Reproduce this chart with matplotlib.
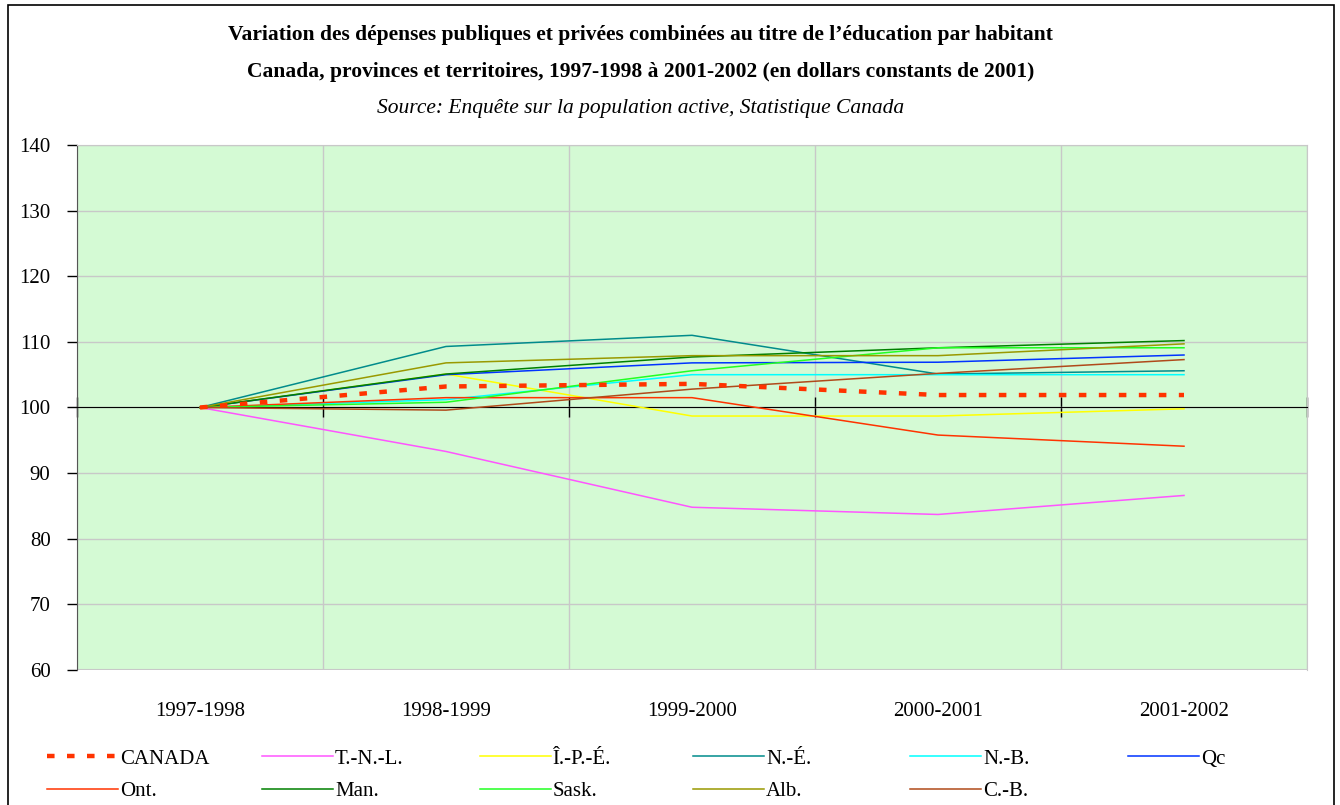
import matplotlib.pyplot as plt
from matplotlib.patches import Rectangle

# catégories et valeurs (indice 1997-1998 = 100)
annees = ['1997-1998', '1998-1999', '1999-2000', '2000-2001', '2001-2002']

canada = [100, 103.2, 103.6, 101.9, 101.9]
tnl = [100, 93.3, 84.8, 83.7, 86.6]
ipe = [100, 105.1, 98.7, 98.7, 99.8]
ne = [100, 109.3, 111.0, 105.1, 105.6]
nb = [100, 101.2, 105.0, 105.0, 105.0]
qc = [100, 105.0, 106.8, 106.9, 108.0]
ont = [100, 101.5, 101.5, 95.8, 94.1]
man = [100, 105.1, 107.7, 109.1, 110.2]
sask = [100, 100.8, 105.6, 109.1, 109.1]
alb = [100, 106.8, 107.9, 107.9, 109.7]
cb = [100, 99.6, 102.8, 105.2, 107.3]

series = [
    ('T.-N.-L.', tnl, '#FF55FF'),
    ('Î.-P.-É.', ipe, '#FFFF00'),
    ('N.-É.', ne, '#008B8B'),
    ('N.-B.', nb, '#00FFFF'),
    ('Qc', qc, '#0033FF'),
    ('Ont.', ont, '#FF3300'),
    ('Man.', man, '#008000'),
    ('Sask.', sask, '#22FF22'),
    ('Alb.', alb, '#999900'),
    ('C.-B.', cb, '#B04A1A'),
]

plt.rcParams['font.family'] = ['Liberation Serif', 'DejaVu Serif']

fig = plt.figure(figsize=(13.4, 8.05), dpi=100)
ax = fig.add_axes([77 / 1340, 135 / 805, 1230 / 1340, 525 / 805])
ax.set_facecolor('#D4FAD4')

x = list(range(len(annees)))
handles = {}
for nom, vals, couleur in series:
    (h,) = ax.plot(x, vals, color=couleur, lw=1.1, label=nom, zorder=3)
    handles[nom] = h
(h,) = ax.plot(x, canada, color='#FF3300', lw=3.2, linestyle=(0, (1.7, 2.8)),
               label='CANADA', zorder=4)
handles['CANADA'] = h

ax.set_xlim(-0.5, 4.5)
ax.set_ylim(60, 140)
ax.set_yticks(range(60, 141, 10))
ax.tick_params(axis='y', direction='out', length=7, width=1, pad=12, labelsize=15)

# axe des x à 100, graduations entre catégories
ax.spines['bottom'].set_position(('data', 100))
ax.set_xticks([i + 0.5 for i in range(-1, 5)])
ax.tick_params(axis='x', direction='inout', length=14, width=1, labelbottom=False)
ax.spines['bottom'].set_color('black')
ax.spines['left'].set_color('#555555')
for s in ('top', 'right'):
    ax.spines[s].set_color('#C8C8C8')
ax.grid(True, color='#C8C8C8', lw=1)
ax.set_axisbelow(True)
ax.axhline(60, color='#C8C8C8', lw=1.5)

sec = ax.secondary_xaxis('bottom')
sec.spines['bottom'].set_visible(False)
sec.set_xticks(x)
sec.set_xticklabels(annees)
sec.tick_params(length=0, pad=23, labelsize=15)

# titres
fig.text(0.478, 0.956, "Variation des dépenses publiques et privées combinées au titre de l’éducation par habitant",
         ha='center', va='center', fontsize=15.5, fontweight='bold')
fig.text(0.478, 0.910, "Canada, provinces et territoires, 1997-1998 à 2001-2002 (en dollars constants de 2001)",
         ha='center', va='center', fontsize=15.5, fontweight='bold')
fig.text(0.478, 0.865, "Source: Enquête sur la population active, Statistique Canada",
         ha='center', va='center', fontsize=15.5, fontstyle='italic')

# légende : une colonne par légende, colonnes régulièrement espacées
colonnes = [['CANADA', 'Ont.'], ['T.-N.-L.', 'Man.'], ['Î.-P.-É.', 'Sask.'],
            ['N.-É.', 'Alb.'], ['N.-B.', 'C.-B.'], ['Qc']]
col_x = [47, 262, 480, 693, 910, 1128]
for noms, cx in zip(colonnes, col_x):
    fig.legend([handles[k] for k in noms], noms, loc='upper left',
               bbox_to_anchor=(cx / 1340, 1 - 749 / 805), frameon=False,
               fontsize=15, handlelength=3.4, handletextpad=0.1,
               labelspacing=0.62, borderpad=0, borderaxespad=0)

fig.add_artist(Rectangle((8 / 1340, -0.01), 1326 / 1340, 0.01 + 800 / 805,
                         transform=fig.transFigure, fill=False, ec='black', lw=1.2))

fig.savefig('out.png', dpi=100)
